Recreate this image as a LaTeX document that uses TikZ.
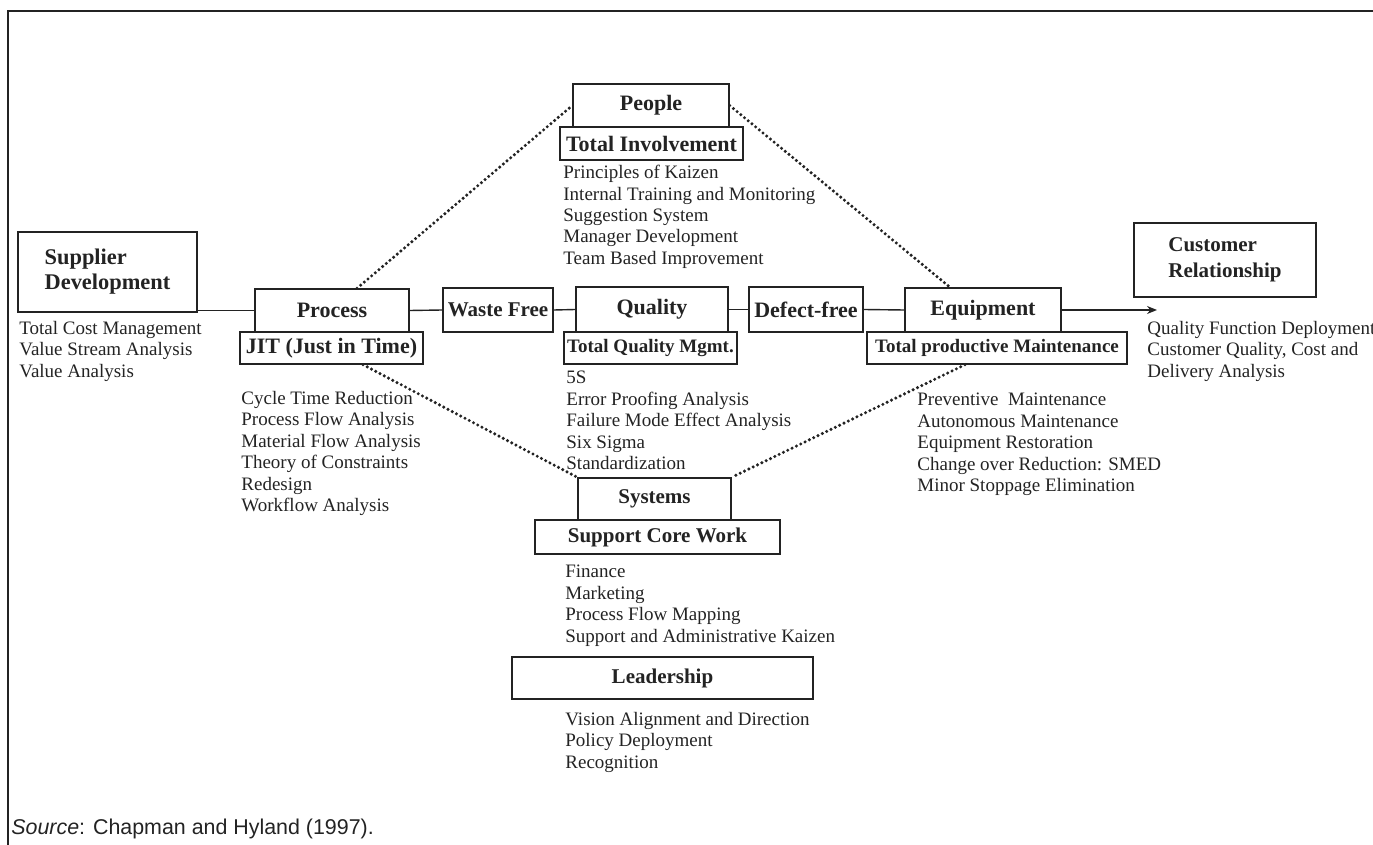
\documentclass[tikz,border=0pt]{standalone}
\usepackage{fontspec}
\setmainfont{Liberation Serif}
\newfontfamily\srcfont{Liberation Sans}
\usetikzlibrary{arrows.meta}
\definecolor{ink}{RGB}{35,35,35}
\begin{document}
\begin{tikzpicture}[x=0.5pt,y=-0.5pt,
  box/.style={draw=ink, line width=0.7pt, fill=white, inner sep=0pt, text=ink,
    font=\bfseries\fontsize{11}{12.5}\selectfont},
  midbox/.style={box, font=\bfseries\fontsize{10.5}{12.5}\selectfont},
  smallbox/.style={box, font=\bfseries\fontsize{9.5}{11}\selectfont},
  lst/.style={anchor=north west, inner sep=0pt, align=left, text=ink,
    font=\fontsize{9.5}{10.7}\selectfont},
  link/.style={draw=ink, line width=0.7pt},
  dots/.style={draw=ink, line width=1.7pt, line cap=round, dash pattern=on 0pt off 2.4pt}]
\useasboundingbox (0,0) rectangle (1373,845);
\clip (0,0) rectangle (1373,845);

% frame
\draw[ink, line width=1pt] (8,845) -- (8,11) -- (1373,11);

% outer boxes
\node[box, minimum width=89.5pt, minimum height=40pt, align=left,
  font=\bfseries\fontsize{11.2}{12.5}\selectfont] (sup) at (107.5,272) {Supplier\\Development};
\node[box, minimum width=91pt, minimum height=37pt, align=left,
  font=\bfseries\fontsize{10.5}{13}\selectfont] (cust) at (1225,260) {Customer\\Relationship};

% central row
\node[box, minimum width=77pt, minimum height=21.5pt] (proc) at (332,310.5) {Process};
\node[box, minimum width=91.5pt, minimum height=16pt] (jit) at (331.5,348) {JIT (Just in Time)};
\node[midbox, minimum width=55pt, minimum height=22pt] (waste) at (498,310) {Waste Free};
\node[box, minimum width=76pt, minimum height=22.5pt] (qual) at (652,309.5) {Quality};
\node[smallbox, minimum width=86.5pt, minimum height=16pt] (tqm) at (650.5,348) {Total Quality Mgmt.};
\node[box, minimum width=57pt, minimum height=22.5pt] (defect) at (806,309.5) {Defect-free};
\node[box, minimum width=78pt, minimum height=22pt] (equip) at (983,310) {Equipment};
\node[smallbox, minimum width=130pt, minimum height=16pt] (tpm) at (997,348) {Total productive Maintenance};

% top
\node[box, minimum width=78pt, minimum height=21.5pt] (people) at (651,105.5) {People};
\node[box, minimum width=91.5pt, minimum height=16.5pt] (tinv) at (651.5,143.5) {Total Involvement};

% bottom
\node[midbox, minimum width=76.5pt, minimum height=21pt] (sys) at (654.5,499) {Systems};
\node[midbox, minimum width=122.5pt, minimum height=17pt] (scw) at (657.5,537) {Support Core Work};
\node[midbox, minimum width=150.5pt, minimum height=21pt] (lead) at (662.5,678) {Leadership};

% lists
\node[lst] (supl) at (19,321) {Total Cost Management\\Value Stream Analysis\\Value Analysis};
\node[lst] (procl) at (241,391) {Cycle Time Reduction\\Process Flow Analysis\\Material Flow Analysis\\Theory of Constraints\\Redesign\\Workflow Analysis};
\node[lst] (peopl) at (563,165) {Principles of Kaizen\\Internal Training and Monitoring\\Suggestion System\\Manager Development\\Team Based Improvement};
\node[lst] (quall) at (566,371) {5S\\Error Proofing Analysis\\Failure Mode Effect Analysis\\Six Sigma\\Standardization};
\node[lst] (equipl) at (917,393) {Preventive~ Maintenance\\Autonomous Maintenance\\Equipment Restoration\\Change over Reduction: SMED\\Minor Stoppage Elimination};
\node[lst] (custl) at (1147,321) {Quality Function Deployment\\Customer Quality, Cost and\\Delivery Analysis};
\node[lst] (sysl) at (565,565) {Finance\\Marketing\\Process Flow Mapping\\Support and Administrative Kaizen};
\node[lst] (leadl) at (565,712) {Vision Alignment and Direction\\Policy Deployment\\Recognition};

% source
\node[anchor=west, inner sep=0pt, text=ink, font=\srcfont\fontsize{10.7}{12}\selectfont] (src) at (11,829) {\textit{Source}: Chapman and Hyland (1997).};

% solid connectors
\coordinate (arrowend) at (1157,310);
\draw[link] (proc.west) -- (proc.west -| sup.east);
\draw[link] (proc.east) -- (waste.west);
\draw[link] (waste.east) -- (qual.west);
\draw[link] (qual.east) -- (defect.west);
\draw[link] (defect.east) -- (equip.west);
\draw[link, -{Stealth[length=5pt, width=4pt]}] (equip.east) -- (arrowend);

% dotted connectors
\draw[dots] ([xshift=12.5pt]proc.north) -- (people.west);
\draw[dots] (people.east) -- ([xshift=-16.5pt]equip.north);
\draw[dots] ([xshift=15.75pt]jit.south) -- (sys.north west);
\draw[dots] ([xshift=-16pt]tpm.south) -- (sys.north east);
\end{tikzpicture}
\end{document}
